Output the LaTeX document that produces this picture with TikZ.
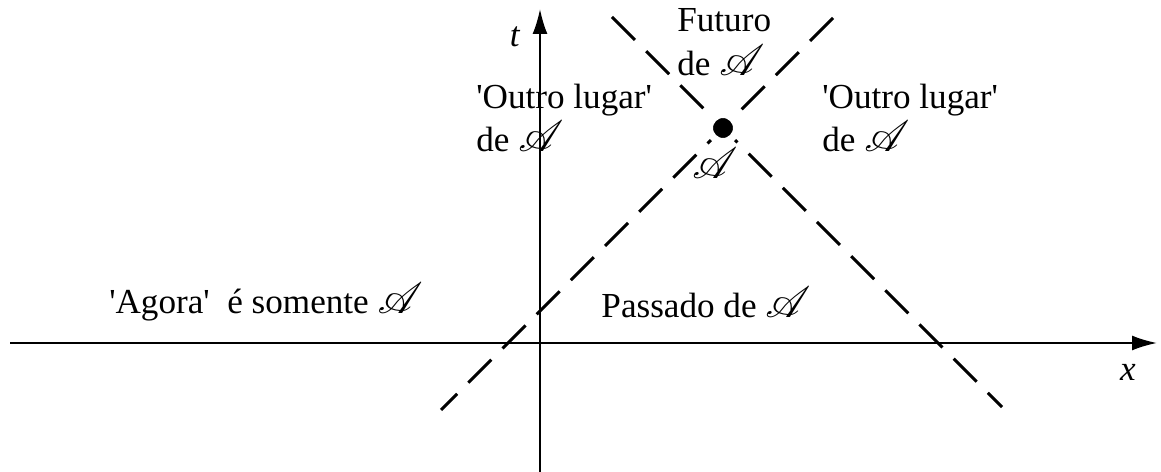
\documentclass[tikz,border=0pt]{standalone}
\usepackage{fontspec}
\setmainfont{Liberation Serif}
\usepackage{mathrsfs}
\usetikzlibrary{arrows.meta}
\tikzset{
  axis/.style={line width=1.1pt, -{Latex[length=0.5cm,width=0.3cm]}},
  cone/.style={line width=1.7pt, dash pattern=on 18.5pt off 9pt},
  lbl/.style={inner sep=0pt, font=\fontsize{20}{25}\selectfont},
}
\newcommand{\evA}{{\fontsize{24}{24}\selectfont$\mathscr{A}$}}
\newcommand{\q}{\textquotesingle}
\begin{document}
\begin{tikzpicture}[x=0.02cm, y=-0.02cm]
    \useasboundingbox (0,0) rectangle (1161,472);
    % eixos
    \coordinate (xl) at (10,343);
    \coordinate (xr) at (1157,343);
    \coordinate (tb) at (540,472);
    \coordinate (tt) at (540,9);
    \draw[axis] (xl) -- (xr);
    \draw[axis] (tb) -- (tt);
    \node[lbl] (xlab) at (1128,372) {\textit{x}};
    \node[lbl] (tlab) at (515,37) {\textit{t}};
    % cone de luz do evento
    \coordinate (c1) at (612,17);
    \coordinate (c2) at (1002,407);
    \coordinate (c3) at (833,18);
    \coordinate (c4) at (441,410);
    \draw[cone] (c1) -- (c2);
    \draw[cone] (c3) -- (c4);
    \node[circle, fill=black, draw=white, line width=4pt, inner sep=0pt, minimum size=0.54cm] (ev) at (723,128) {};
    \node[lbl] (evlab) at (715,163) {\evA};
    % regioes
    \node[lbl, anchor=west, align=left] (fut) at (677,42) {Futuro\\de \evA};
    \node[lbl, anchor=west, align=left] (outl) at (476,118) {\q Outro lugar\q\\de \evA};
    \node[lbl, anchor=west, align=left] (outr) at (822,118) {\q Outro lugar\q\\de \evA};
    \node[lbl] (agora) at (266,302) {\q Agora\q\ \ é somente \evA};
    \node[lbl] (pass) at (706,302) {Passado de \evA};
\end{tikzpicture}
\end{document}
